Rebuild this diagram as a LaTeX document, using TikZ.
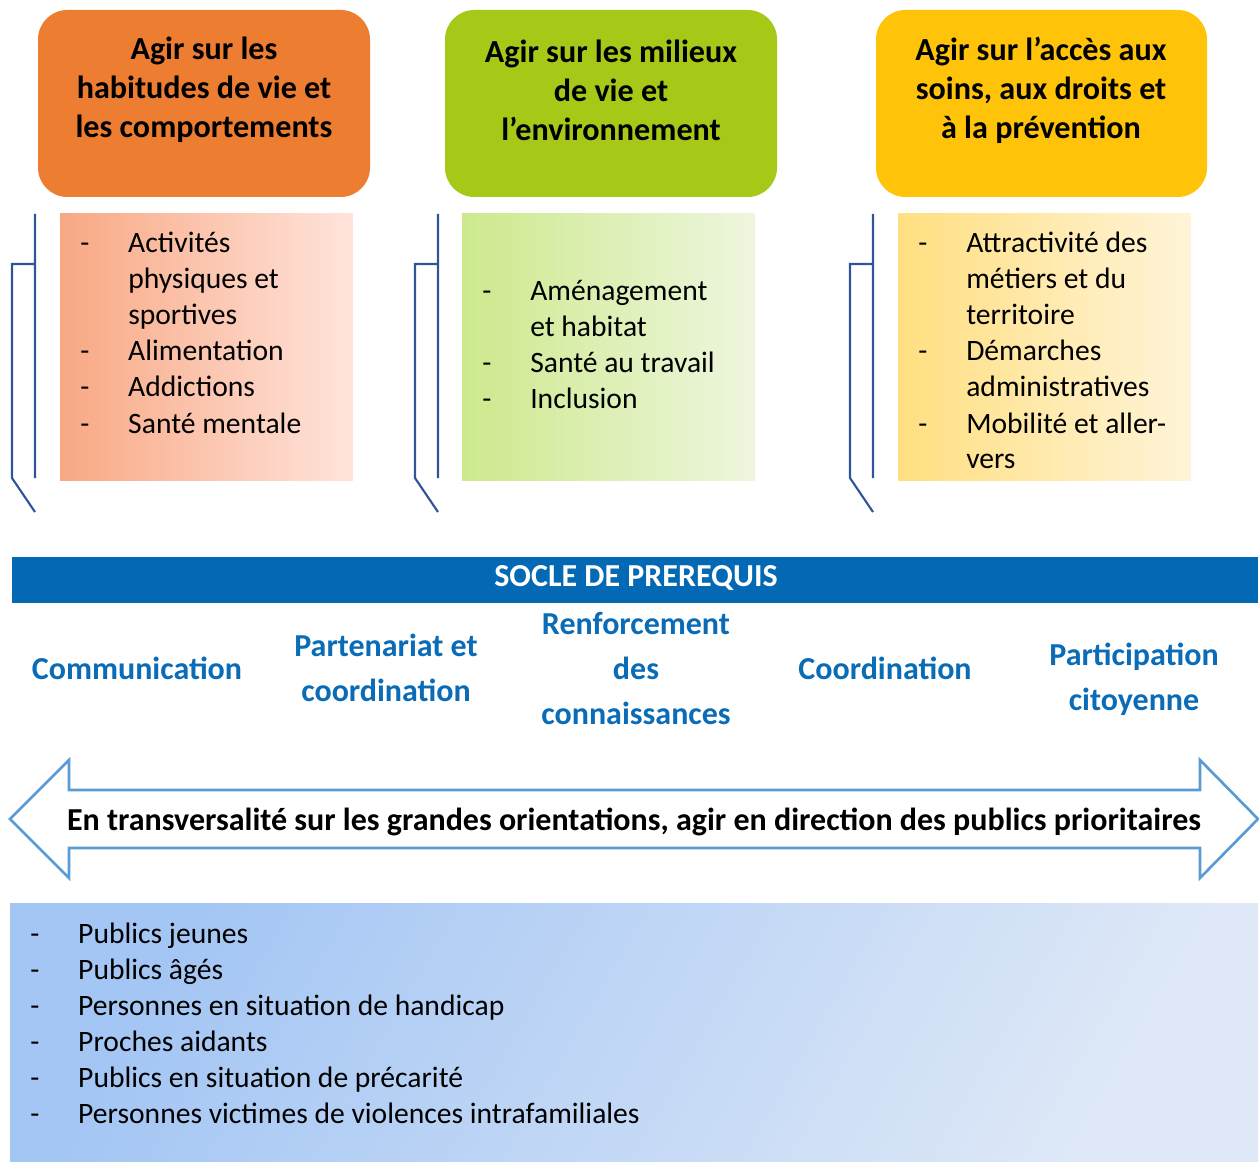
\documentclass[tikz,border=0pt]{standalone}
\usepackage{fontspec}
\setmainfont{Carlito}
\usepackage{tikz}
\definecolor{orangeT}{HTML}{ED7D31}
\definecolor{greenT}{HTML}{A6C817}
\definecolor{yellowT}{HTML}{FFC30A}
\definecolor{orangeA}{HTML}{F8A883}
\definecolor{orangeB}{HTML}{FFE4DC}
\definecolor{greenA}{HTML}{CDE98C}
\definecolor{greenB}{HTML}{EEF6DF}
\definecolor{yellowA}{HTML}{FFDF80}
\definecolor{yellowB}{HTML}{FFF4D9}
\definecolor{socle}{HTML}{0469B4}
\definecolor{labelblue}{HTML}{0A6BB6}
\definecolor{arrowblue}{HTML}{5B9BD5}
\definecolor{bracketblue}{HTML}{2F5597}
\definecolor{bottomA}{HTML}{A4C6F4}
\definecolor{bottomB}{HTML}{DEE8F7}
\newcommand{\titlefont}{\fontsize{24.1}{29.25}\selectfont\bfseries}
\newcommand{\listfont}{\fontsize{22.2}{27}\selectfont}
\newcommand{\labelfont}{\fontsize{24}{33.75}\selectfont\bfseries}

\begin{document}
\begin{tikzpicture}[x=0.75pt,y=-0.75pt,
    titlebox/.style={rounded corners=22pt,draw=none},
    titletext/.style={align=center,font=\titlefont,inner sep=0pt},
    listtext/.style={anchor=base west,inner sep=0pt,font=\listfont},
    bracket/.style={draw=bracketblue,line width=1.6pt},
    socletext/.style={align=center,font=\labelfont,text=labelblue,inner sep=0pt}]
  \useasboundingbox (0,0) rectangle (1259,1162);
  \fill[titlebox,orangeT] (38,10) rectangle (370,197);
  \fill[titlebox,greenT] (445,10) rectangle (777,197);
  \fill[titlebox,yellowT] (876,10) rectangle (1207,197);
  \node[titletext] (t1) at (204,90) {Agir sur les\\habitudes de vie et\\les comportements};
  \node[titletext] (t2) at (611,90) {Agir sur les milieux\\de vie et\\l’environnement};
  \node[titletext] (t3) at (1041,90) {Agir sur l’accès aux\\soins, aux droits et\\à la prévention};
  \shade[left color=orangeA,right color=orangeB] (60,214) rectangle (353,480);
  \shade[left color=greenA,right color=greenB] (462,214) rectangle (755,480);
  \shade[left color=yellowA,right color=yellowB] (898,214) rectangle (1191,480);
  \node[listtext] (l1) at (80,253) {\begin{tabular}[t]{@{}p{36pt}@{}l@{}}
    - & Activités\\ & physiques et\\ & sportives\\- & Alimentation\\- & Addictions\\- & Santé mentale\end{tabular}};
  \node[listtext] (l2) at (482,301) {\begin{tabular}[t]{@{}p{36pt}@{}l@{}}
    - & Aménagement\\ & et habitat\\- & Santé au travail\\- & Inclusion\end{tabular}};
  \node[listtext] (l3) at (918,253) {\begin{tabular}[t]{@{}p{36pt}@{}l@{}}
    - & Attractivité des\\ & métiers et du\\ & territoire\\- & Démarches\\ & administratives\\- & Mobilité et aller-\\ & vers\end{tabular}};
  \foreach \bx in {35,438,873}
    \draw[bracket] (\bx,214) -- (\bx,478)
      (\bx,264) -- (\bx-23,264) -- (\bx-23,478) -- (\bx,512);
  \fill[socle] (12,557) rectangle (1258,603);
  \node[font=\labelfont,text=white,inner sep=0pt] (socle) at (636,578) {SOCLE DE PREREQUIS};
  \node[socletext] (s1) at (137,668) {Communication};
  \node[socletext] (s2) at (386,668) {Partenariat et\\coordination};
  \node[socletext] (s3) at (636,668) {Renforcement\\des\\connaissances};
  \node[socletext] (s4) at (885,668) {Coordination};
  \node[socletext] (s5) at (1134,679) {Participation\\citoyenne};
  \draw[arrowblue,line width=2pt,fill=white] (10,819) -- (69,760) -- (69,790) -- (1200,790)
    -- (1200,760) -- (1258,819) -- (1200,878) -- (1200,848) -- (69,848) -- (69,878) -- cycle;
  \node[font=\labelfont,inner sep=0pt] (transv) at (634,822) {En transversalité sur les grandes orientations, agir en direction des publics prioritaires};
  \shade[left color=bottomA,right color=bottomB,shading angle=60] (10,903) rectangle (1258,1162);
  \node[listtext] (pub) at (30,943) {\begin{tabular}[t]{@{}p{36pt}@{}l@{}}
    - & Publics jeunes\\- & Publics âgés\\- & Personnes en situation de handicap\\- & Proches aidants\\- & Publics en situation de précarité\\- & Personnes victimes de violences intrafamiliales\end{tabular}};
\end{tikzpicture}
\end{document}
